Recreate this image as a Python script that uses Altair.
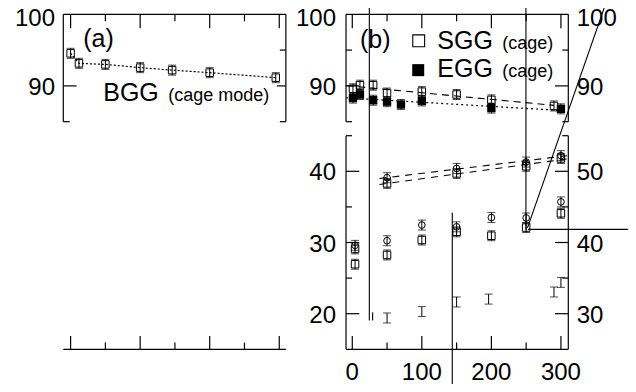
import altair as alt
import pandas as pd

# ---------------- values ----------------
# panel (a): BGG (cage mode)
bgg_x = [0, 12, 50, 100, 146, 200, 295]
bgg_y = [94.55, 93.15, 93.0, 92.55, 92.2, 91.85, 91.15]
bgg_err = [0.7, 0.7, 0.7, 0.7, 0.7, 0.7, 0.7]

# panel (b), upper part
sgg_x = [1, 11, 30, 50, 100, 150, 200, 290]
sgg_y = [89.6, 90.1, 90.1, 89.0, 89.2, 88.8, 88.05, 87.2]
sgg_err = [0.7, 0.7, 0.7, 0.7, 0.7, 0.7, 0.7, 0.7]
egg_x = [1, 11, 30, 50, 70, 100, 200, 300]
egg_y = [88.3, 88.8, 88.0, 87.8, 87.4, 87.9, 86.9, 86.8]
egg_err = [0.7, 0.7, 0.7, 0.7, 0.7, 0.7, 0.7, 0.7]

# panel (b), lower part
c1_x = [50, 150, 250, 300]
c1_y = [39.1, 40.4, 41.3, 42.2]
s1_x = [50, 150, 250, 300]
s1_y = [38.3, 39.7, 40.7, 41.8]
c2_x = [4, 50, 100, 150, 200, 250, 300]
c2_y = [29.6, 30.25, 32.45, 32.2, 33.5, 33.45, 35.7]
s2_x = [4, 4, 50, 100, 150, 200, 250, 300]
s2_y = [29.1, 26.95, 28.25, 30.35, 31.5, 30.95, 32.1, 34.1]
i_x = [50, 100, 150, 196, 290, 300]
i_y = [19.4, 20.3, 21.65, 22.05, 23.05, 24.4]
lower_err = 0.7

# ticks and tick labels
x_major = [0, 100, 200, 300]
x_minor = [50, 150, 250]
x_labels = ["0", "100", "200", "300"]
a_label_vals = [100, 90]
a_labels = ["100", "90"]
b_label_vals = [100, 90, 40, 30, 20]
b_left_labels = ["100", "90", "40", "30", "20"]
b_right_labels = ["100", "90", "50", "40", "30"]
b_major_y = [90, 40, 30, 20]
b_minor_y = [95, 85, 45, 35, 25]

# stray straight lines present in the picture (panel b data units)
stray_x = [24.5, 249.7, 252.6, 251.9, 143.8, 29.3]
stray_x2 = [24.5, 249.7, 407.9, 366.2, 143.8, 29.3]
stray_y = [19.06, 31.8, 31.85, 32.06, 9.0, 19.06]
stray_y2 = [102.0, 102.0, 31.85, 102.0, 34.2, 20.2]

# ---------------- layout ----------------
W, H = 505, 335
X_DOM = [-10.5, 715.6]
Y_DOM = [15, 45, 85, 100]
Y_RANGE = [335, 121.4, 107.4, 0]
OFF_B = 405
A_L, A_R = -10.5, 309.5
B_L, B_R = 396.0, 715.6
PXU = W / (X_DOM[1] - X_DOM[0])
PYU_LO = (Y_RANGE[0] - Y_RANGE[1]) / (Y_DOM[1] - Y_DOM[0])
PYU_HI = (Y_RANGE[2] - Y_RANGE[3]) / (Y_DOM[3] - Y_DOM[2])
FONT = "Liberation Sans"

xs = alt.Scale(domain=X_DOM, nice=False, zero=False)
ys = alt.Scale(domain=Y_DOM, range=Y_RANGE, nice=False, zero=False)


def X(f):
    return alt.X(f, type="quantitative", scale=xs, axis=None)


def Y(f):
    return alt.Y(f, type="quantitative", scale=ys, axis=None)


# ---------------- frame segments ----------------
segs = []


def seg(x, x2, y, y2):
    segs.append(dict(x=x, x2=x2, y=y, y2=y2))


for L, R, off in [(A_L, A_R, 0), (B_L, B_R, OFF_B)]:
    seg(L, R, 100, 100)
    seg(L, R, 15, 15)
    seg(L, L, 85, 100)
    seg(R, R, 85, 100)
    for t in x_major:
        seg(t + off, t + off, 100, 100 - 14 / PYU_HI)
        seg(t + off, t + off, 15, 15 + 13.3 / PYU_LO)
    for t in x_minor:
        seg(t + off, t + off, 100, 100 - 7 / PYU_HI)
        seg(t + off, t + off, 15, 15 + 6.7 / PYU_LO)

# panel (a) y ticks
seg(A_L, A_L + 13.3 / PXU, 90, 90)
seg(A_L, A_L + 6.5 / PXU, 85, 85)
seg(A_R, A_R - 9 / PXU, 90, 90)
seg(A_R, A_R - 6 / PXU, 95, 95)
seg(A_R, A_R - 6 / PXU, 85, 85)
# panel (b) lower spines and y ticks
seg(B_L, B_L, 15, 45)
seg(B_R, B_R, 15, 45)
for v in b_major_y:
    seg(B_L, B_L + 13.3 / PXU, v, v)
    seg(B_R, B_R - 13.3 / PXU, v, v)
for v in b_minor_y:
    seg(B_L, B_L + 6 / PXU, v, v)
    seg(B_R, B_R - 6 / PXU, v, v)

frame_df = pd.DataFrame(segs)
frame = alt.Chart(frame_df).mark_rule(color="black", strokeWidth=1.2).encode(
    x=X("x"), x2=alt.X2("x2"), y=Y("y"), y2=alt.Y2("y2")
)

stray_df = pd.DataFrame(dict(
    x=[v + OFF_B for v in stray_x], x2=[v + OFF_B for v in stray_x2],
    y=stray_y, y2=stray_y2))
stray = alt.Chart(stray_df).mark_rule(color="black", strokeWidth=1.1).encode(
    x=X("x"), x2=alt.X2("x2"), y=Y("y"), y2=alt.Y2("y2")
)

# ---------------- data frames ----------------
def pts(xv, yv, ev, off, name):
    ev = ev if isinstance(ev, list) else [ev] * len(xv)
    return pd.DataFrame(dict(u=[a + off for a in xv], y=yv,
                             lo=[b - e for b, e in zip(yv, ev)],
                             hi=[b + e for b, e in zip(yv, ev)],
                             s=[name] * len(xv)))


bgg = pts(bgg_x, bgg_y, bgg_err, 0, "bgg")
sgg = pts(sgg_x, sgg_y, sgg_err, OFF_B, "sgg")
egg = pts(egg_x, egg_y, egg_err, OFF_B, "egg")
c1 = pts(c1_x, c1_y, lower_err, OFF_B, "c1")
s1 = pts(s1_x, s1_y, lower_err, OFF_B, "s1")
c2 = pts(c2_x, c2_y, lower_err, OFF_B, "c2")
s2 = pts(s2_x, s2_y, lower_err, OFF_B, "s2")
ib = pts(i_x, i_y, lower_err, OFF_B, "i")
allp = pd.concat([bgg, sgg, egg, c1, s1, c2, s2, ib], ignore_index=True)

ebar = alt.Chart(allp).mark_rule(color="black", strokeWidth=1).encode(
    x=X("u"), y=Y("lo"), y2=alt.Y2("hi"))
cap_lo = alt.Chart(allp).mark_tick(orient="horizontal", size=8, thickness=1, color="black").encode(
    x=X("u"), y=Y("lo"))
cap_hi = alt.Chart(allp).mark_tick(orient="horizontal", size=8, thickness=1, color="black").encode(
    x=X("u"), y=Y("hi"))

open_sq = alt.Chart(pd.concat([bgg, sgg, s1, s2])).mark_square(
    size=56, filled=False, color="black", strokeWidth=1, opacity=1).encode(x=X("u"), y=Y("y"))
fill_sq = alt.Chart(egg).mark_square(size=70, filled=True, color="black", opacity=1).encode(
    x=X("u"), y=Y("y"))
circ = alt.Chart(pd.concat([c1, c2])).mark_point(
    shape="circle", size=45, filled=False, color="black", strokeWidth=1, opacity=1).encode(
    x=X("u"), y=Y("y"))

bgg_line = alt.Chart(bgg).mark_line(color="black", strokeWidth=1.2, strokeDash=[2, 2]).encode(
    x=X("u"), y=Y("y"))
sgg_fit = alt.Chart(sgg).transform_regression("u", "y", extent=[B_L + 0.5, 695]).mark_line(
    color="black", strokeWidth=1.1, strokeDash=[7, 5]).encode(x=X("u"), y=Y("y"))
egg_fit = alt.Chart(egg).transform_regression("u", "y", extent=[B_L + 0.5, 710]).mark_line(
    color="black", strokeWidth=1.2, strokeDash=[2, 3]).encode(x=X("u"), y=Y("y"))
c1_fit = alt.Chart(c1).transform_regression("u", "y", extent=[444, B_R]).mark_line(
    color="black", strokeWidth=1.1, strokeDash=[7, 6]).encode(x=X("u"), y=Y("y"))
s1_fit = alt.Chart(s1).transform_regression("u", "y", extent=[444, B_R]).mark_line(
    color="black", strokeWidth=1.1, strokeDash=[7, 6]).encode(x=X("u"), y=Y("y"))

# ---------------- texts ----------------
def tl(df, size, align, baseline, dx=0, dy=0):
    return alt.Chart(df).mark_text(font=FONT, fontSize=size, align=align, baseline=baseline,
                                   dx=dx, dy=dy, color="black").encode(
        x=X("x"), y=Y("y"), text="text:N")


def ylabels(xpos, vals, texts, align, dx):
    df = pd.DataFrame(dict(x=[xpos] * len(vals), y=vals, text=texts))
    top = df[df.y >= 100]
    rest = df[df.y < 100]
    return [tl(top, 24, align, "middle", dx, 4.5), tl(rest, 24, align, "middle", dx, 2)]


lab_layers = []
lab_layers += ylabels(A_L, a_label_vals, a_labels, "right", -8.3)
lab_layers += ylabels(B_L, b_label_vals, b_left_labels, "right", -10)
lab_layers += ylabels(B_R, b_label_vals, b_right_labels, "left", 8.4)
lab_x = tl(pd.DataFrame(dict(x=[v + OFF_B for v in x_major], y=[15] * 4, text=x_labels)), 24, "center",
           "alphabetic", 0, 31)

big = tl(pd.DataFrame(dict(x=[18.1, 46.9, OFF_B + 11.1, OFF_B + 122.2, OFF_B + 122.2],
                           y=[95.47, 87.93, 95.36, 95.11, 91.2],
                           text=["(a)", "BGG", "(b)", "SGG", "EGG"])), 25, "left", "alphabetic")
small = tl(pd.DataFrame(dict(x=[140.3, OFF_B + 215.7, OFF_B + 215.7],
                             y=[87.93, 95.11, 91.2],
                             text=["(cage mode)", "(cage)", "(cage)"])), 18, "left", "alphabetic")

leg_df = pd.DataFrame(dict(u=[OFF_B + 95.5, OFF_B + 94.8], y=[96.3, 92.2], f=["o", "f"]))
leg_open = alt.Chart(leg_df[leg_df.f == "o"]).mark_square(size=140, filled=False, color="black",
                                                          strokeWidth=1.1, opacity=1).encode(x=X("u"), y=Y("y"))
leg_fill = alt.Chart(leg_df[leg_df.f == "f"]).mark_square(size=144, filled=True, color="black",
                                                          opacity=1).encode(x=X("u"), y=Y("y"))

chart = alt.layer(
    frame, stray, bgg_line, sgg_fit, egg_fit, c1_fit, s1_fit,
    ebar, cap_lo, cap_hi, open_sq, fill_sq, circ,
    *lab_layers, lab_x, big, small, leg_open, leg_fill,
).properties(
    width=W, height=H,
    padding={"left": 55.3, "top": 6.3, "right": 59.7, "bottom": 34.7},
    autosize=alt.AutoSizeParams(type="none"),
    background="white",
).configure_view(stroke=None)

chart.save("out.html", embed_options={"renderer": "svg", "actions": False})
